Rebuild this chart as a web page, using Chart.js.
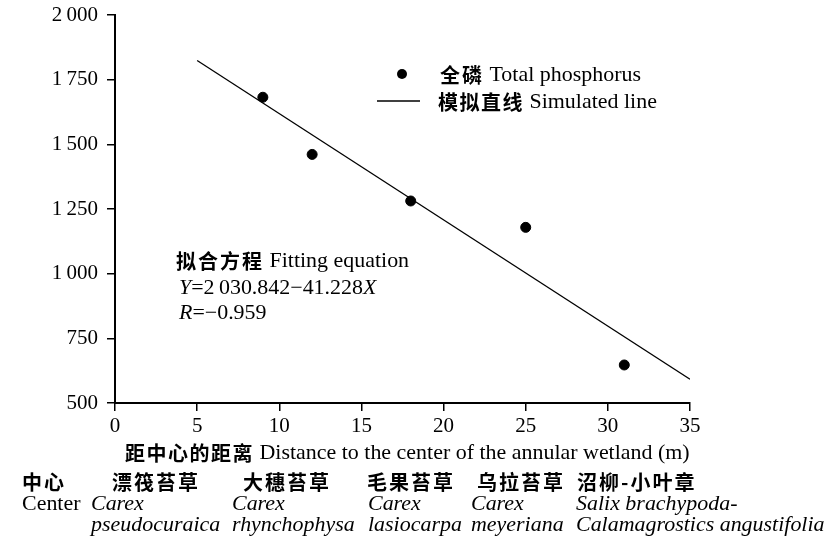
<!DOCTYPE html>
<html>
<head>
<meta charset="utf-8">
<script src="https://cdn.jsdelivr.net/npm/chart.js@4"></script>
<style>
  body { margin: 0; background: #fff; }
  #wrap { width: 827px; height: 540px; }
</style>
</head>
<body>
<div id="wrap"><canvas id="tpChart" width="827" height="540"></canvas></div>
<script>
// Data
const distances = [9, 12, 18, 25, 31];
const phosphorus = [1682, 1461, 1281, 1179, 647];
const lineX = [5, 35];
const lineY = [1824, 592];
const yTicks = [500, 750, 1000, 1250, 1500, 1750, 2000];
const xTicks = [0, 5, 10, 15, 20, 25, 30, 35];

const zoneCn = ['中心', '漂筏苔草', '大穗苔草', '毛果苔草', '乌拉苔草', '沼柳-小叶章'];
const zoneLine1 = ['Center', 'Carex', 'Carex', 'Carex', 'Carex', 'Salix brachypoda-'];
const zoneLine2 = ['', 'pseudocuraica', 'rhynchophysa', 'lasiocarpa', 'meyeriana', 'Calamagrostics angustifolia'];

// layout only
const zoneCnX = [22, 112, 243, 367, 477, 577];
const zoneLatinX = [22, 91, 232, 368, 471, 576];

const SERIF = '"Liberation Serif", "Times New Roman", serif';
const CJK = '"Noto Sans CJK SC", sans-serif';
const LAT = '21px ' + SERIF;
const LAT_I = 'italic 21px ' + SERIF;
const HAN = 'bold 20px ' + CJK;
const HSCALE = 1.045; // scanned Times runs a bit wide

function fmtTick(v) {
    if (v >= 1000) return Math.floor(v / 1000) + '\u2009' + String(v % 1000).padStart(3, '0');
    return String(v);
}

// draw a run of text pieces one after the other
// r = [text, font, letterSpacing, horizontal scale]
function drawRuns(ctx, x, y, runs) {
    runs.forEach(r => {
        const sx = r[3] || 1;
        ctx.font = r[1];
        ctx.letterSpacing = r[2] || '0px';
        ctx.save();
        ctx.translate(x, y);
        ctx.scale(sx, 1);
        ctx.fillText(r[0], 0, 0);
        ctx.restore();
        x += ctx.measureText(r[0]).width * sx;
    });
    ctx.letterSpacing = '0px';
}

const annotations = {
    id: 'annotations',
    afterDraw(chart) {
        const ctx = chart.ctx;
        ctx.save();
        ctx.fillStyle = '#000';
        ctx.strokeStyle = '#000';
        ctx.textBaseline = 'middle';
        ctx.textAlign = 'left';

        // legend
        ctx.beginPath();
        ctx.arc(402, 74, 5, 0, Math.PI * 2);
        ctx.fill();
        drawRuns(ctx, 440, 75, [['全磷', HAN, '2px'], [' Total phosphorus', LAT, '0px', HSCALE]]);
        ctx.lineWidth = 1.3;
        ctx.beginPath();
        ctx.moveTo(377, 101);
        ctx.lineTo(420, 101);
        ctx.stroke();
        drawRuns(ctx, 438, 102, [['模拟直线', HAN, '1.5px'], [' Simulated line', LAT, '0px', HSCALE]]);

        // fitting equation
        drawRuns(ctx, 176, 261, [['拟合方程', HAN, '2px'], [' Fitting equation', LAT, '0px', HSCALE]]);
        drawRuns(ctx, 179, 288, [['Y', LAT_I, '0px', HSCALE], ['=2\u2009030.842\u221241.228', LAT, '0px', HSCALE], ['X', LAT_I, '0px', HSCALE]]);
        drawRuns(ctx, 179, 313, [['R', LAT_I, '0px', HSCALE], ['=\u22120.959', LAT, '0px', HSCALE]]);

        // x axis title
        drawRuns(ctx, 125, 453, [['距中心的距离', HAN, '1.5px'], [' Distance to the center of the annular wetland (m)', LAT, '0px', HSCALE]]);

        // zones under the axis
        zoneCn.forEach((t, i) => drawRuns(ctx, zoneCnX[i], 482, [[t, HAN, '2px']]));
        zoneLine1.forEach((t, i) => drawRuns(ctx, zoneLatinX[i], 504, [[t, i === 0 ? LAT : LAT_I, '0px', HSCALE]]));
        zoneLine2.forEach((t, i) => drawRuns(ctx, zoneLatinX[i], 525, [[t, LAT_I, '0px', HSCALE]]));
        ctx.restore();
    }
};

new Chart(document.getElementById('tpChart').getContext('2d'), {
    type: 'scatter',
    data: {
        datasets: [{
            label: '全磷 Total phosphorus',
            data: distances.map((d, i) => ({ x: d, y: phosphorus[i] })),
            backgroundColor: '#000',
            borderColor: '#000',
            pointRadius: 5,
            pointHoverRadius: 5
        }, {
            type: 'line',
            label: '模拟直线 Simulated line',
            data: lineX.map((d, i) => ({ x: d, y: lineY[i] })),
            borderColor: '#000',
            borderWidth: 1.3,
            pointRadius: 0,
            fill: false
        }]
    },
    options: {
        responsive: false,
        animation: false,
        layout: { padding: { left: 0, top: 15, right: 137, bottom: 0 } },
        plugins: { legend: { display: false }, tooltip: { enabled: false } },
        scales: {
            x: {
                type: 'linear',
                min: 0, max: 35,
                afterBuildTicks: s => { s.ticks = xTicks.map(v => ({ value: v })); },
                afterFit: s => { s.height = 137; s.paddingLeft = 0; s.paddingRight = 0; },
                border: { display: true, color: '#000', width: 2 },
                grid: { drawOnChartArea: false, drawTicks: true, tickLength: 8, color: '#000', lineWidth: 1.5 },
                ticks: { color: '#000', padding: 3, font: { family: SERIF, size: 21 } }
            },
            y: {
                min: 500, max: 2000,
                afterBuildTicks: s => { s.ticks = yTicks.map(v => ({ value: v })); },
                afterFit: s => { s.width = 115; s.paddingTop = 0; s.paddingBottom = 0; },
                border: { display: true, color: '#000', width: 2 },
                grid: { drawOnChartArea: false, drawTicks: true, tickLength: 8, color: '#000', lineWidth: 1.5 },
                ticks: { color: '#000', padding: 9, callback: v => fmtTick(v), font: { family: SERIF, size: 21 } }
            }
        }
    },
    plugins: [annotations]
});
</script>
</body>
</html>
